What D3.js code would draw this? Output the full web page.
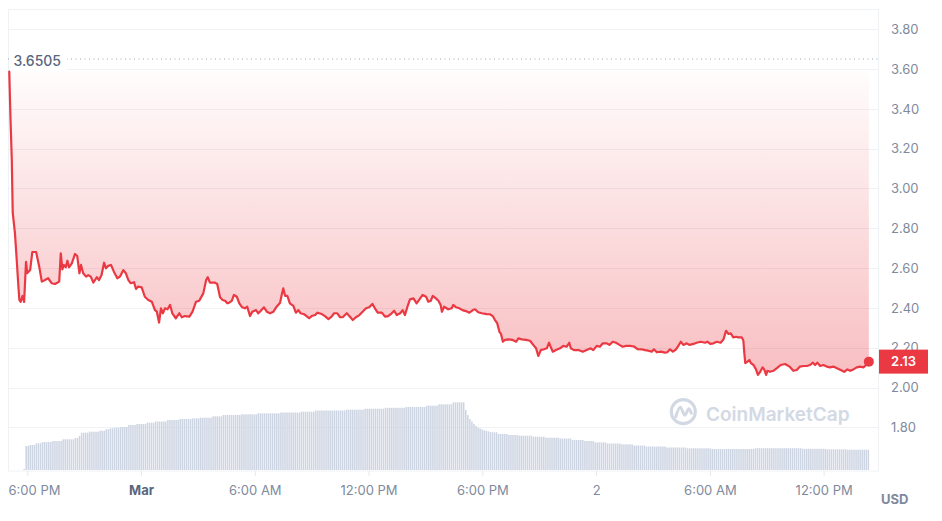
<!DOCTYPE html>
<html>
<head>
<meta charset="utf-8">
<script src="https://cdn.jsdelivr.net/npm/d3@7/dist/d3.min.js"></script>
<style>
  html, body { margin: 0; padding: 0; background: #fff; }
  svg { display: block; font-family: Inter, "Noto Sans", sans-serif; }
</style>
</head>
<body>
<script>
// ---------------- DATA ----------------
// price samples: minutes after Feb 29, 6:00 PM, and price in USD
const priceMinutes = [
-57,-53,-49,-46,-39,-34,-28,-25,-21,-15,
-10,-4,0,9,16,28,38,46,56,66,
77,88,101,106,111,116,122,127,132,141,
151,158,165,170,177,186,193,201,209,220,
227,235,243,249,256,265,274,285,293,304,
312,320,327,338,344,351,362,372,383,394,
404,410,417,423,429,436,444,452,459,470,
481,489,499,513,523,534,544,557,566,571,
578,594,601,610,618,626,633,639,647,654,
663,671,680,689,696,705,712,724,731,739,
749,758,768,779,789,800,805,810,816,823,
831,842,850,858,865,876,884,892,900,911,
918,932,942,953,963,971,981,990,998,1011,
1019,1030,1040,1051,1061,1072,1082,1092,1100,1109,
1122,1132,1142,1153,1161,1169,1180,1188,1195,1203,
1211,1222,1232,1241,1251,1262,1269,1277,1283,1293,
1301,1308,1312,1319,1332,1343,1348,1357,1367,1377,
1388,1399,1410,1417,1427,1438,1454,1464,1473,1480,
1487,1494,1499,1505,1512,1522,1536,1547,1554,1565,
1578,1591,1601,1610,1617,1625,1635,1644,1651,1656,
1663,1673,1686,1696,1707,1715,1720,1730,1744,1758,
1770,1783,1791,1802,1812,1821,1834,1842,1853,1863,
1874,1884,1895,1907,1920,1931,1944,1955,1965,1976,
1983,1992,2005,2018,2025,2034,2043,2053,2060,2068,
2076,2087,2095,2108,2118,2131,2145,2152,2161,2171,
2182,2194,2203,2211,2219,2226,2234,2243,2250,2261,
2266,2269,2272,2279,2285,2290,2298,2306,2312,2319,
2327,2332,2338,2342,2350,2361,2372,2384,2398,2412,
2424,2435,2445,2456,2467,2477,2486,2493,2500,2509,
2519,2530,2540,2551,2562,2574,2585,2595,2604,2614,
2625,2635,2646,2654,2663
];
const priceValues = [
3.587,3.344,3.143,2.877,2.776,2.656,2.505,2.440,2.430,2.460,
2.430,2.631,2.575,2.590,2.681,2.681,2.606,2.532,2.540,2.549,
2.524,2.520,2.532,2.674,2.594,2.616,2.604,2.637,2.604,2.624,
2.671,2.661,2.574,2.616,2.574,2.557,2.565,2.557,2.527,2.554,
2.540,2.565,2.627,2.599,2.611,2.616,2.582,2.549,2.557,2.590,
2.574,2.540,2.524,2.529,2.495,2.507,2.503,2.456,2.440,2.431,
2.389,2.381,2.326,2.398,2.373,2.398,2.393,2.415,2.373,2.348,
2.373,2.353,2.359,2.356,2.381,2.431,2.436,2.473,2.540,2.554,
2.527,2.527,2.520,2.453,2.440,2.436,2.423,2.426,2.435,2.465,
2.456,2.423,2.403,2.398,2.406,2.359,2.381,2.389,2.373,2.386,
2.403,2.381,2.373,2.381,2.406,2.426,2.465,2.498,2.460,2.460,
2.423,2.410,2.376,2.389,2.373,2.368,2.359,2.348,2.359,2.364,
2.376,2.369,2.359,2.344,2.356,2.373,2.373,2.353,2.353,2.373,
2.359,2.339,2.353,2.364,2.381,2.398,2.403,2.420,2.398,2.376,
2.376,2.356,2.359,2.373,2.386,2.364,2.373,2.389,2.364,2.406,
2.443,2.448,2.423,2.443,2.465,2.456,2.431,2.436,2.460,2.448,
2.436,2.415,2.381,2.406,2.393,2.398,2.415,2.403,2.398,2.389,
2.384,2.376,2.389,2.393,2.378,2.373,2.369,2.368,2.359,2.339,
2.323,2.280,2.269,2.230,2.239,2.242,2.239,2.230,2.247,2.242,
2.239,2.235,2.214,2.197,2.158,2.188,2.192,2.197,2.225,2.205,
2.180,2.188,2.197,2.209,2.205,2.225,2.197,2.188,2.188,2.180,
2.188,2.197,2.188,2.209,2.205,2.222,2.222,2.214,2.230,2.225,
2.214,2.205,2.209,2.209,2.206,2.193,2.192,2.188,2.185,2.180,
2.192,2.177,2.180,2.175,2.177,2.192,2.180,2.192,2.209,2.230,
2.214,2.222,2.214,2.219,2.225,2.230,2.225,2.230,2.219,2.222,
2.230,2.225,2.242,2.285,2.269,2.272,2.252,2.255,2.252,2.252,
2.235,2.172,2.122,2.130,2.138,2.122,2.113,2.091,2.063,2.079,
2.101,2.091,2.063,2.084,2.079,2.084,2.097,2.113,2.118,2.105,
2.084,2.088,2.105,2.108,2.108,2.113,2.125,2.113,2.125,2.108,
2.113,2.105,2.101,2.105,2.097,2.088,2.079,2.091,2.084,2.091,
2.101,2.105,2.101,2.113,2.130
];
const highPrice = 3.6505;
const lastPriceLabel = "2.13";

// volume (relative, millions) sampled every 6.5 minutes starting at minute -10
const volumeStartMinute = -10;
const volumeStepMinutes = 6.5;
const volumeValues = [
1,
24,24,
25,25,25,
26.7,26.7,26.7,
28,28,28,28,28,
29,29,29,29,29,
30.7,30.7,30.7,30.7,30.7,30.7,
32,32,
34,
37.3,37.3,37.3,37.3,
38.3,38.3,38.3,38.3,38.3,
39.3,39.3,39.3,
40.7,40.7,
41.7,41.7,
42.3,42.3,42.3,
43,43,43,43,
45,45,45,45,
46,46,46,46,46,
47.3,47.3,47.3,47.3,
48.5,48.5,48.5,48.5,48.5,48.5,
50,50,50,50,50,50,
51,51,51,51,51,51,
51.7,51.7,51.7,51.7,
52.3,52.3,52.3,52.3,52.3,52.3,
53.7,53.7,53.7,53.7,53.7,
55,55,55,55,55,55,55,55,55,
55.7,55.7,55.7,55.7,55.7,55.7,55.7,55.7,
56.7,56.7,56.7,56.7,56.7,56.7,56.7,56.7,56.7,56.7,56.7,
57.5,57.5,57.5,57.5,57.5,57.5,57.5,57.5,57.5,57.5,
58.3,58.3,58.3,58.3,58.3,58.3,58.3,
59.5,59.5,59.5,59.5,59.5,59.5,59.5,59.5,59.5,59.5,59.5,59.5,59.5,59.5,59.5,
60.3,60.3,60.3,60.3,60.3,60.3,60.3,60.3,60.3,
61.3,61.3,61.3,61.3,61.3,61.3,61.3,61.3,61.3,61.3,
62.2,62.2,62.2,62.2,62.2,62.2,62.2,62.2,62.2,62.2,
63,63,63,63,63,63,63,63,63,63,
64.3,64.3,64.3,64.3,64.3,64.3,
65.7,65.7,65.7,65.7,65.7,65.7,65.7,
67.7,67.7,67.7,67.7,67.7,67.7,
60,55,51,48.5,46,44,42.5,41.5,40.5,39.7,39.3,38.7,38,
37.7,37.7,37.7,
36,36,36,36,36,
35,35,35,35,35,
34.3,34.3,34.3,34.3,34.3,34.3,34.3,
33.3,33.3,33.3,33.3,33.3,33.3,
32.3,32.3,32.3,32.3,32.3,32.3,32.3,
31.5,31.5,31.5,31.5,31.5,31.5,
30,30,30,30,30,30,
29,29,29,29,29,
27.7,27.7,27.7,27.7,27.7,27.7,
26.5,26.5,26.5,26.5,26.5,26.5,26.5,
25.7,25.7,25.7,25.7,25.7,25.7,
24.5,24.5,24.5,24.5,24.5,24.5,
23.5,23.5,23.5,23.5,23.5,23.5,23.5,23.5,23.5,23.5,
22.5,22.5,22.5,22.5,22.5,22.5,22.5,22.5,22.5,22.5,
21.7,21.7,21.7,21.7,21.7,21.7,21.7,21.7,21.7,21.7,21.7,21.7,
21,21,21,21,21,21,21,21,21,21,21,21,21,21,21,21,21,21,21,21,21,
21.8,21.8,21.8,21.8,21.8,21.8,21.8,21.8,21.8,21.8,21.8,21.8,21.8,21.8,21.8,21.8,21.8,21.8,21.8,21.8,21.8,21.8,21.8,
21.2,21.2,21.2,21.2,21.2,21.2,21.2,21.2,21.2,21.2,21.2,21.2,
20.7,20.7,20.7,20.7,20.7,20.7,20.7,20.7,20.7,20.7,
20.3,20.3,20.3,20.3,20.3,20.3,20.3,20.3,20.3,20.3,20.3
];

// axis ticks
const yTicks = [1.8, 2.0, 2.2, 2.4, 2.6, 2.8, 3.0, 3.2, 3.4, 3.6, 3.8];
const xTickMinutes = [0, 360, 720, 1080, 1440, 1800, 2160, 2520];
const xTickLabels = ["6:00 PM", "Mar", "6:00 AM", "12:00 PM", "6:00 PM", "2", "6:00 AM", "12:00 PM"];
const xTickBold = [false, true, false, false, false, false, false, false];
const xDomainMinutes = [-61, 2692];
const yDomain = [1.8, 3.8];
const volumeDomain = [0, 70];

// ---------------- CHART ----------------
const W = 942, H = 521;
const plot = { left: 8, right: 878, top: 9, bottom: 471 };
const RED = "#EA3943";
const base = new Date(2024, 1, 29, 18, 0, 0);
const toDate = m => new Date(base.getTime() + m * 60000);

const svg = d3.select("body").append("svg").attr("width", W).attr("height", H);

const x = d3.scaleTime().domain(xDomainMinutes.map(toDate)).range([plot.left, plot.right]);
const y = d3.scaleLinear().domain(yDomain).range([427.3, 29.3]);
const yv = d3.scaleLinear().domain(volumeDomain).range([plot.bottom - 1, plot.bottom - 71]);

const defs = svg.append("defs");
const grad = defs.append("linearGradient").attr("id", "fillGrad")
  .attr("gradientUnits", "userSpaceOnUse")
  .attr("x1", 0).attr("x2", 0).attr("y1", y(highPrice)).attr("y2", y(2.0));
grad.append("stop").attr("offset", "0%").attr("stop-color", RED).attr("stop-opacity", 0.0);
grad.append("stop").attr("offset", "100%").attr("stop-color", RED).attr("stop-opacity", 0.34);

// gridlines
svg.append("g").selectAll("line").data(yTicks).join("line")
  .attr("x1", plot.left).attr("x2", plot.right)
  .attr("y1", d => Math.round(y(d)) + 0.5).attr("y2", d => Math.round(y(d)) + 0.5)
  .attr("stroke", "#f1f2f5").attr("stroke-width", 1);

// frame
svg.append("rect")
  .attr("x", plot.left + 0.5).attr("y", plot.top + 0.5)
  .attr("width", plot.right - plot.left).attr("height", plot.bottom - plot.top - 0.5)
  .attr("fill", "none").attr("stroke", "#eff2f5").attr("stroke-width", 1);

// watermark
const wm = svg.append("g").attr("transform", "translate(683.3,411.7)");
wm.append("circle").attr("r", 12).attr("fill", "none").attr("stroke", "#d3d9e4").attr("stroke-width", 3.2);
wm.append("path")
  .attr("d", d3.line().curve(d3.curveCatmullRom)([[-7.5, 5], [-3, -4.5], [1.5, 3.5], [5.5, -3], [8, 1.5]]))
  .attr("fill", "none").attr("stroke", "#d3d9e4").attr("stroke-width", 3).attr("stroke-linecap", "round").attr("stroke-linejoin", "round");
svg.append("text").attr("x", 706).attr("y", 420.5)
  .attr("font-size", 19).attr("font-weight", 600).attr("fill", "#d3d9e4")
  .text("CoinMarketCap");

// volume bars
svg.append("g").selectAll("rect").data(volumeValues).join("rect")
  .attr("x", (d, i) => x(toDate(volumeStartMinute + i * volumeStepMinutes)) - 0.75)
  .attr("width", 1.5)
  .attr("y", d => yv(d))
  .attr("height", d => yv(0) - yv(d))
  .attr("fill", "#cdd4e2");

// price data
const pts = priceMinutes.map((m, i) => ({ t: toDate(m), v: priceValues[i] }));

// area between start price and line
const area = d3.area().x(d => x(d.t)).y0(y(priceValues[0])).y1(d => y(d.v));
svg.append("path").datum(pts).attr("d", area).attr("fill", "url(#fillGrad)");

// dotted high line
svg.append("line")
  .attr("x1", plot.left).attr("x2", plot.right)
  .attr("y1", y(highPrice)).attr("y2", y(highPrice))
  .attr("stroke", "#9aa3b4").attr("stroke-width", 1).attr("stroke-dasharray", "1,3.5");

// price line
const line = d3.line().x(d => x(d.t)).y(d => y(d.v));
svg.append("path").datum(pts).attr("d", line)
  .attr("fill", "none").attr("stroke", RED).attr("stroke-width", 2.2)
  .attr("stroke-linejoin", "round").attr("stroke-linecap", "round");

// high label
svg.append("rect").attr("x", 9).attr("y", y(highPrice) - 9).attr("width", 58).attr("height", 20).attr("fill", "#fff");
svg.append("text").attr("x", 13.5).attr("y", y(highPrice) + 6.5)
  .attr("font-size", 14).attr("font-weight", 500).attr("fill", "#58667e").text(d3.format(".4f")(highPrice));

// end dot
const last = pts[pts.length - 1];
svg.append("circle").attr("cx", x(last.t)).attr("cy", y(last.v)).attr("r", 5).attr("fill", RED);

// y axis
const yAxis = svg.append("g").attr("transform", `translate(${plot.right},0)`)
  .call(d3.axisRight(y).tickValues(yTicks).tickFormat(d3.format(".2f")).tickSize(0).tickPadding(13));
yAxis.select(".domain").remove();
yAxis.selectAll("text").attr("font-size", 13).attr("font-family", "Inter, sans-serif").attr("fill", "#808a9d");

// last price badge
const by = y(last.v);
svg.append("rect").attr("x", 879).attr("y", by - 12).attr("width", 49).attr("height", 24).attr("fill", RED);
svg.append("text").attr("x", 903.5).attr("y", by + 4.5).attr("text-anchor", "middle")
  .attr("font-size", 13).attr("font-weight", 600).attr("fill", "#fff").text(lastPriceLabel);

// x axis
const xAxis = svg.append("g").attr("transform", `translate(0,${plot.bottom})`)
  .call(d3.axisBottom(x).tickValues(xTickMinutes.map(toDate))
    .tickFormat((d, i) => xTickLabels[i]).tickSize(5).tickPadding(10));
xAxis.select(".domain").remove();
xAxis.selectAll(".tick line").attr("stroke", "#e6e9ee");
xAxis.selectAll("text").attr("font-size", 13).attr("font-family", "Inter, sans-serif")
  .attr("fill", (d, i) => xTickBold[i] ? "#58667e" : "#808a9d")
  .attr("font-weight", (d, i) => xTickBold[i] ? 700 : 400);
// keep the first label inside the chart's left edge
xAxis.selectAll(".tick text").filter((d, i) => i === 0)
  .attr("text-anchor", "start").attr("x", plot.left - x(toDate(xTickMinutes[0])));

// currency label
svg.append("text").attr("x", 881).attr("y", 504)
  .attr("font-size", 13).attr("font-weight", 700).attr("fill", "#808a9d").text("USD");
</script>
</body>
</html>
